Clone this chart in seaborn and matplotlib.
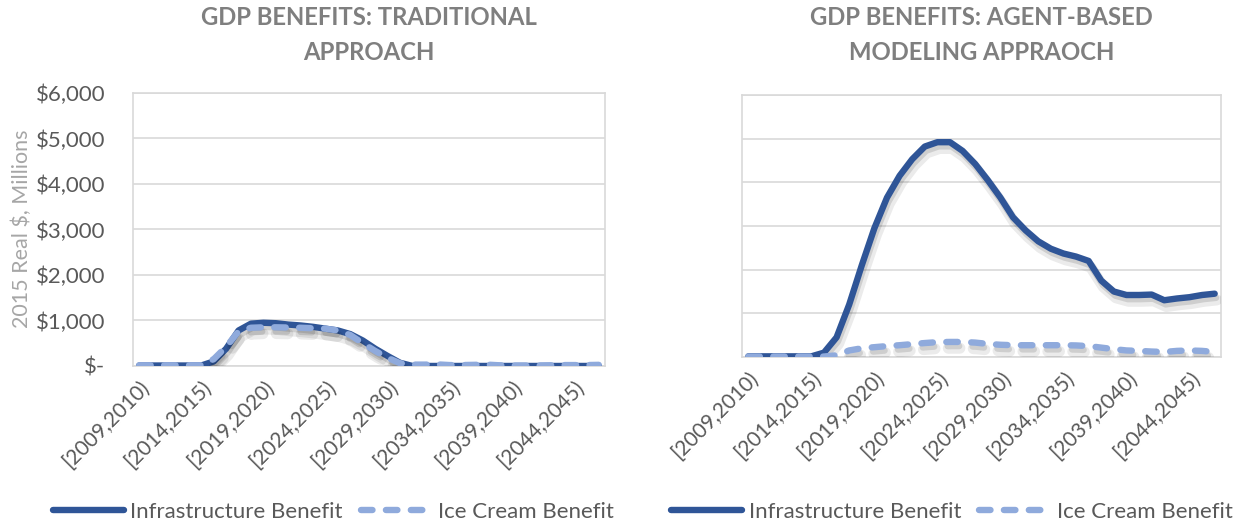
import matplotlib
matplotlib.use("Agg")
import matplotlib.pyplot as plt
import matplotlib.patheffects as pe
from matplotlib.lines import Line2D
from matplotlib.ticker import FuncFormatter, FixedLocator
import seaborn as sns
import pandas as pd

# ---------------- data ----------------
years = list(range(2009, 2047))
categories = [f"[{y},{y+1})" for y in years]

trad_infra = [10, 10, 10, 10, 10, 10, 100, 380, 780, 930, 950, 940, 910, 890, 860, 820,
              780, 700, 560, 380, 220, 70, 0, 0, 0, 0, 0, 0, 0, 0, 0, 0, 0, 0, 0, 0, 0, 0]
trad_ice = [15, 15, 15, 15, 15, 15, 150, 420, 760, 840, 850, 850, 845, 840, 830, 820,
            780, 680, 500, 330, 180, 60, 30, 30, 35, 20, 20, 25, 30, 15, 10, 10, 10, 15, 20, 20, 20, 25]
abm_infra = [15, 15, 15, 15, 15, 15, 100, 450, 1200, 2100, 2950, 3650, 4150, 4530, 4820, 4920,
             4920, 4720, 4420, 4050, 3650, 3200, 2900, 2650, 2480, 2370, 2300, 2200, 1750, 1500,
             1420, 1420, 1430, 1300, 1340, 1370, 1420, 1450]
abm_ice = [10, 10, 10, 10, 10, 10, 10, 40, 150, 200, 225, 250, 270, 295, 320, 340, 345, 345,
           330, 300, 280, 270, 270, 270, 270, 270, 265, 250, 215, 180, 150, 140, 125, 115, 140,
           150, 140, 115]

series_names = ["Infrastructure Benefit", "Ice Cream Benefit"]
titles = ["GDP BENEFITS: TRADITIONAL\nAPPROACH", "GDP BENEFITS: AGENT-BASED\nMODELING APPRAOCH"]
y_ticks = [0, 1000, 2000, 3000, 4000, 5000, 6000]
y_label = "2015 Real $, Millions"

# ---------------- style ----------------
sns.set_theme(style="white")
plt.rcParams["font.family"] = ["Lato", "DejaVu Sans"]

C_INFRA = "#2F5597"
C_ICE = "#8FAADC"
C_GRID = "#D9D9D9"
C_TICK = "#595959"
C_TITLE = "#7F7F7F"

fig = plt.figure(figsize=(12.44, 5.25), dpi=100)
ax1 = fig.add_axes([0.1069, 0.3029, 0.3794, 0.52])
ax2 = fig.add_axes([0.5965, 0.32, 0.385, 0.499])

def shadow():
    return [pe.SimpleLineShadow(offset=(1.5, -4.5), shadow_color="black", alpha=0.08, linewidth=8),
            pe.SimpleLineShadow(offset=(1.0, -3.0), shadow_color="black", alpha=0.12),
            pe.Normal()]

def money(v, pos):
    if v == 0:
        return "$-"
    return f"${v:,.0f}"

x_idx = list(range(len(years)))
LW = 4.6
DASH = (0, (1.8, 2.1))

for ax, infra, ice, title in [(ax1, trad_infra, trad_ice, titles[0]),
                              (ax2, abm_infra, abm_ice, titles[1])]:
    df = pd.DataFrame({"x": x_idx, "infra": infra, "ice": ice})
    sns.lineplot(data=df, x="x", y="infra", ax=ax, color=C_INFRA, linewidth=LW,
                 solid_capstyle="round", solid_joinstyle="round", path_effects=shadow(), zorder=3)
    sns.lineplot(data=df, x="x", y="ice", ax=ax, color=C_ICE, linewidth=LW,
                 linestyle=DASH, dash_capstyle="round", dash_joinstyle="round",
                 path_effects=shadow(), zorder=4)
    ax.set_xlim(-0.5, len(years) - 0.5)
    ax.set_ylim(0, 6000)
    ax.yaxis.set_major_locator(FixedLocator(y_ticks))
    ax.yaxis.set_major_formatter(FuncFormatter(money))
    ax.set_xticks(x_idx[::5])
    ax.set_xticklabels(categories[::5], rotation=45, ha="right", rotation_mode="anchor",
                       color=C_TICK, fontsize=15)
    ax.tick_params(axis="x", length=0, pad=8)
    ax.tick_params(axis="y", length=0, pad=20, labelsize=16, labelcolor=C_TICK)
    ax.grid(axis="y", color=C_GRID, linewidth=1.2, zorder=0)
    for s in ax.spines.values():
        s.set_color(C_GRID)
        s.set_linewidth(1.2)
    ax.set_xlabel("")
    ax.set_ylabel("")
    bb = ax.get_position()
    fig.text(bb.x0 + bb.width / 2, 0.988, title, ha="center", va="top", fontsize=17.2,
             fontweight="bold", color=C_TITLE, linespacing=1.6)

ax2.tick_params(axis="y", labelleft=False)

fig.text(22 / 1244, 0.564, y_label, rotation=90, ha="center", va="center", fontsize=15.5,
         color="#A6A6A6")

handles = [Line2D([], [], color=C_INFRA, linewidth=LW, solid_capstyle="round"),
           Line2D([], [], color=C_ICE, linewidth=LW, linestyle=DASH, dash_capstyle="round")]
for cx in (0.268, 0.765):
    fig.legend(handles, series_names, loc="center", bbox_to_anchor=(cx, 0.025), ncol=2,
               frameon=False, fontsize=16, handlelength=3.2, columnspacing=0.8,
               handletextpad=0.3, labelcolor=C_TICK)

fig.savefig("out.png", dpi=100)
